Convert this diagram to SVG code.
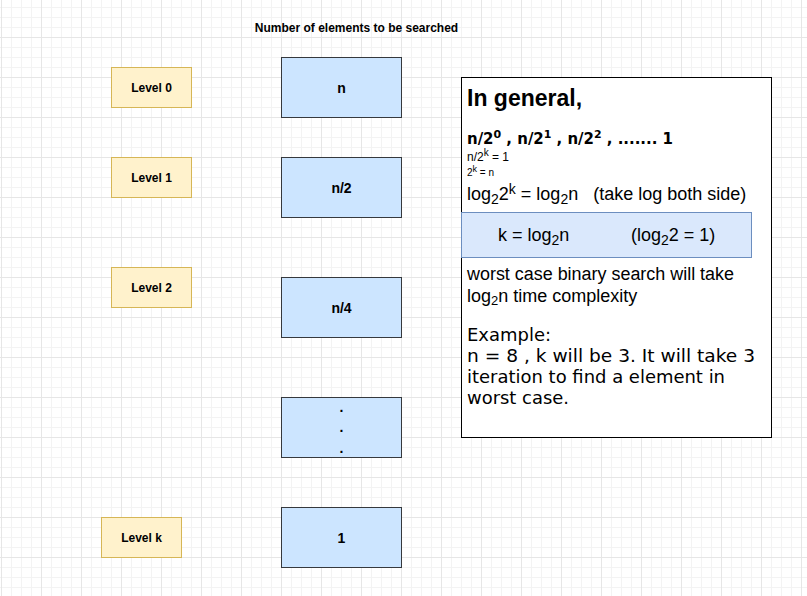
<svg xmlns="http://www.w3.org/2000/svg" width="807" height="596" viewBox="0 0 807 596">
<defs>
<pattern id="minor" width="10" height="10" patternUnits="userSpaceOnUse" x="1" y="7">
<path d="M0 0.5H10M0.5 0V10" fill="none" stroke="#f3f3f3" stroke-width="1"/>
</pattern>
<pattern id="major" width="40" height="40" patternUnits="userSpaceOnUse" x="1" y="37">
<path d="M0 0.5H40M0.5 0V40" fill="none" stroke="#e6e6e6" stroke-width="1"/>
</pattern>
</defs>
<style>
.lvl{fill:#fff2cc;stroke:#d6b656;stroke-width:1}
.num{fill:#cce5ff;stroke:#36393d;stroke-width:1}
.t{font-family:"Liberation Sans",Arial,sans-serif;fill:#000;white-space:pre}
.b{font-weight:bold}
.v{font-family:"DejaVu Sans",Verdana,sans-serif;fill:#000;white-space:pre}
</style>
<rect width="807" height="596" fill="#fff"/>
<rect width="807" height="596" fill="url(#minor)"/>
<rect width="807" height="596" fill="url(#major)"/>

<text class="t b" x="356.5" y="32" font-size="12" text-anchor="middle">Number of elements to be searched</text>

<g id="level0"><rect class="lvl" x="111.5" y="67.5" width="80" height="40"/><text class="t b" x="151.5" y="92" font-size="12" text-anchor="middle">Level 0</text></g>
<g id="level1"><rect class="lvl" x="111.5" y="157.5" width="80" height="40"/><text class="t b" x="151.5" y="182" font-size="12" text-anchor="middle">Level 1</text></g>
<g id="level2"><rect class="lvl" x="111.5" y="267.5" width="80" height="40"/><text class="t b" x="151.5" y="292" font-size="12" text-anchor="middle">Level 2</text></g>
<g id="levelk"><rect class="lvl" x="101.5" y="517.5" width="80" height="40"/><text class="t b" x="141.5" y="542" font-size="12" text-anchor="middle">Level k</text></g>

<g id="box-n"><rect class="num" x="281.5" y="57.5" width="120" height="60"/><text class="t b" x="341.5" y="93" font-size="14" text-anchor="middle">n</text></g>
<g id="box-n2"><rect class="num" x="281.5" y="157.5" width="120" height="60"/><text class="t b" x="341.5" y="193" font-size="14" text-anchor="middle">n/2</text></g>
<g id="box-n4"><rect class="num" x="281.5" y="277.5" width="120" height="60"/><text class="t b" x="341.5" y="313" font-size="14" text-anchor="middle">n/4</text></g>
<g id="box-dots"><rect class="num" x="281.5" y="397.5" width="120" height="60"/>
<text class="t b" x="341.5" y="412" font-size="14" text-anchor="middle">.</text>
<text class="t b" x="341.5" y="432" font-size="14" text-anchor="middle">.</text>
<text class="t b" x="341.5" y="453" font-size="14" text-anchor="middle">.</text></g>
<g id="box-1"><rect class="num" x="281.5" y="507.5" width="120" height="60"/><text class="t b" x="341.5" y="543" font-size="14" text-anchor="middle">1</text></g>

<g id="general">
<rect x="461.5" y="77.5" width="310" height="360" fill="#fff" stroke="#000" stroke-width="1"/>
<text class="t b" x="467" y="106" font-size="23">In general,</text>
<text class="v b" x="467" y="144" font-size="15" textLength="206" lengthAdjust="spacing">n/2<tspan font-size="11" dy="-6">0</tspan><tspan dy="6"> , n/2</tspan><tspan font-size="11" dy="-6">1</tspan><tspan dy="6"> , n/2</tspan><tspan font-size="11" dy="-6">2</tspan><tspan dy="6"> , ....... 1</tspan></text>
<text class="t" x="467" y="161" font-size="12">n/2<tspan font-size="10" dy="-5">k</tspan><tspan dy="5"> = 1</tspan></text>
<text class="t" x="467" y="176" font-size="10">2<tspan font-size="9" dy="-4">k</tspan><tspan dy="4"> = n</tspan></text>
<text class="t" x="467" y="200" font-size="18">log<tspan font-size="14" dy="4">2</tspan><tspan dy="-4">2</tspan><tspan font-size="14" dy="-6">k</tspan><tspan dy="6"> = log</tspan><tspan font-size="14" dy="4">2</tspan><tspan dy="-4">n   (take log both side)</tspan></text>
<rect x="461.5" y="212.5" width="290" height="45" fill="#dae8fc" stroke="#6c8ebf" stroke-width="1"/>
<text class="t" x="498" y="241" font-size="18">k = log<tspan font-size="14" dy="4">2</tspan><tspan dy="-4">n</tspan></text>
<text class="t" x="631" y="241" font-size="18">(log<tspan font-size="14" dy="4">2</tspan><tspan dy="-4">2 = 1)</tspan></text>
<text class="t" x="467" y="280" font-size="18" textLength="267" lengthAdjust="spacingAndGlyphs">worst case binary search will take</text>
<text class="t" x="467" y="302" font-size="18">log<tspan font-size="13" dy="3">2</tspan><tspan dy="-3">n time complexity</tspan></text>
<text class="v" x="467" y="341" font-size="17.5" textLength="84" lengthAdjust="spacingAndGlyphs">Example:</text>
<text class="v" x="467" y="362" font-size="17.5" textLength="288" lengthAdjust="spacingAndGlyphs">n = 8 , k will be 3. It will take 3</text>
<text class="v" x="467" y="383" font-size="17.5" textLength="258" lengthAdjust="spacingAndGlyphs">iteration to find a element in</text>
<text class="v" x="467" y="404" font-size="17.5" textLength="102" lengthAdjust="spacingAndGlyphs">worst case.</text>
</g>
</svg>
